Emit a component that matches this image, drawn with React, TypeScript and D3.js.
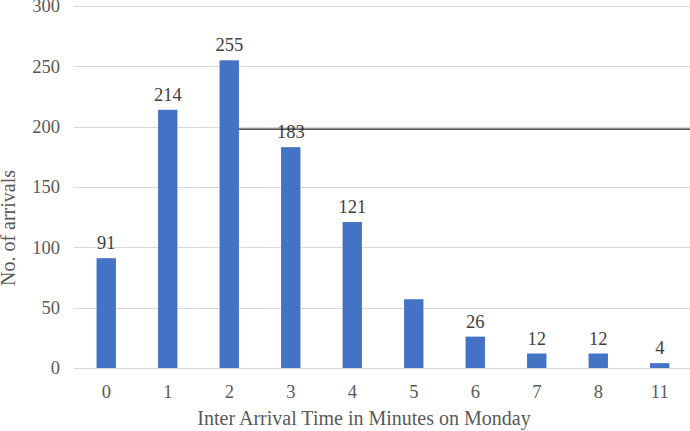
import { useMemo } from 'react';
import * as d3 from 'd3';

const WIDTH = 690;
const HEIGHT = 431;
const PLOT = { left: 75.5, right: 690.5, top: 6, bottom: 368 };

const categories = ['0', '1', '2', '3', '4', '5', '6', '7', '8', '11'];
const arrivals = [91, 214, 255, 183, 121, 57, 26, 12, 12, 4];
const showLabel = [true, true, true, true, true, false, true, true, true, true];
const yTicks = [0, 50, 100, 150, 200, 250, 300];
// stray horizontal rule in the source image, starting at the right edge of bar "2"
const ruleValue = 198;
const ruleFrom = '2';

const FONT = "'Liberation Serif', 'DejaVu Serif', serif";
const BAR = '#4472c4';
const txt = { fontFamily: FONT };

export default function App() {
  const x = useMemo(
    () =>
      d3
        .scaleBand()
        .domain(categories)
        .range([PLOT.left, PLOT.right])
        .paddingInner(0.685)
        .paddingOuter(0.3425),
    []
  );

  const y = useMemo(
    () => d3.scaleLinear().domain([0, 300]).range([PLOT.bottom, PLOT.top]),
    []
  );

  const bw = x.bandwidth();

  return (
    <svg
      width={WIDTH}
      height={HEIGHT}
      viewBox={`0 0 ${WIDTH} ${HEIGHT}`}
      style={{ position: 'absolute', left: 0, top: 0, background: '#fff' }}
    >
      {yTicks.map((t) => (
        <g key={t}>
          <line
            x1={PLOT.left - 2}
            x2={WIDTH}
            y1={Math.round(y(t)) + 0.5}
            y2={Math.round(y(t)) + 0.5}
            stroke="#d9d9d9"
            strokeWidth={1}
          />
          <text
            x={60}
            y={y(t)}
            dy="0.35em"
            textAnchor="end"
            fontSize={18.5}
            fill="#595959"
            style={txt}
          >
            {t}
          </text>
        </g>
      ))}

      {categories.map((c, i) => (
        <rect
          key={c}
          x={x(c)}
          y={y(arrivals[i])}
          width={bw}
          height={y(0) - y(arrivals[i])}
          fill={BAR}
        />
      ))}

      {categories.map((c, i) =>
        showLabel[i] ? (
          <text
            key={`${c}-label`}
            x={(x(c) as number) + bw / 2}
            y={y(arrivals[i]) - 9}
            textAnchor="middle"
            fontSize={18.5}
            fill="#404040"
            style={txt}
          >
            {arrivals[i]}
          </text>
        ) : null
      )}

      {categories.map((c) => (
        <text
          key={`${c}-tick`}
          x={(x(c) as number) + bw / 2}
          y={398}
          textAnchor="middle"
          fontSize={18.5}
          fill="#595959"
          style={txt}
        >
          {c}
        </text>
      ))}

      <line
        x1={(x(ruleFrom) as number) + bw}
        x2={WIDTH}
        y1={y(ruleValue)}
        y2={y(ruleValue)}
        stroke="#222"
        strokeWidth={1.2}
      />

      <text
        x={364}
        y={425}
        textAnchor="middle"
        fontSize={20}
        fill="#595959"
        style={txt}
      >
        Inter Arrival Time in Minutes on Monday
      </text>
      <text
        transform={`translate(15, ${228}) rotate(-90)`}
        textAnchor="middle"
        fontSize={20}
        fill="#595959"
        style={txt}
      >
        No. of arrivals
      </text>
    </svg>
  );
}
